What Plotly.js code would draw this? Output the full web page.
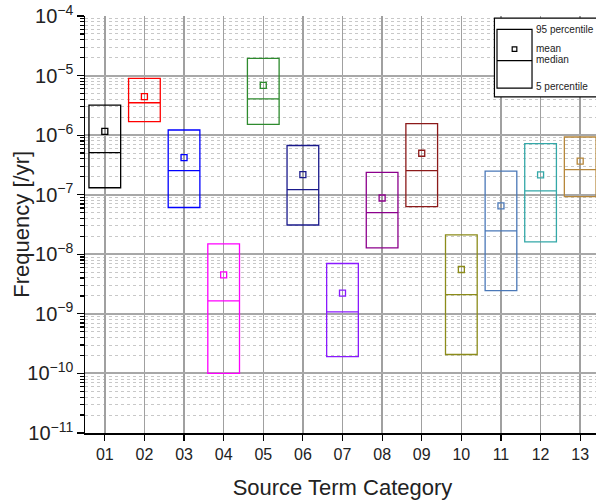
<!DOCTYPE html>
<html><head><meta charset="utf-8">
<script src="https://cdn.plot.ly/plotly-3.0.1.min.js"></script>
<style>html,body{margin:0;padding:0;overflow:hidden;background:#fff}</style>
</head><body><div id="chart" style="width:600px;height:500px"></div>
<script>
const categories = ['01','02','03','04','05','06','07','08','09','10','11','12','13'];
const p95    = [3.2e-6, 9.0e-6, 1.22e-6, 1.49e-8, 1.95e-5, 6.7e-7, 7.0e-9, 2.38e-7, 1.56e-6, 2.12e-8, 2.48e-7, 7.2e-7, 9.3e-7];
const p5     = [1.31e-7, 1.69e-6, 6.1e-8, 1.0e-10, 1.52e-6, 3.1e-8, 1.92e-10, 1.28e-8, 6.3e-8, 2.08e-10, 2.46e-9, 1.61e-8, 9.3e-8];
const median = [5.1e-7, 3.5e-6, 2.54e-7, 1.65e-9, 4.05e-6, 1.22e-7, 1.08e-9, 5.0e-8, 2.54e-7, 2.11e-9, 2.47e-8, 1.16e-7, 2.64e-7];
const mean   = [1.16e-6, 4.43e-6, 4.2e-7, 4.5e-9, 6.87e-6, 2.18e-7, 2.22e-9, 8.8e-8, 4.97e-7, 5.55e-9, 6.5e-8, 2.15e-7, 3.65e-7];
const colors = ['#000000','#ff0000','#0000ff','#ff00ff','#2e8b2e','#1a1a8c','#8a1aff','#8c008c','#8c1a1a','#8c8c1a','#4a78b8','#33a8a8','#b7873a'];
const legendLabels = ['95 percentile','mean','median','5 percentile'];
const yTitle = 'Frequency [/yr]';
const xTitle = 'Source Term Category';

const traces = categories.map((c,i)=>({
  type:'box', x:[c], q1:[p5[i]], q3:[p95[i]], median:[median[i]],
  lowerfence:[p5[i]], upperfence:[p95[i]], width:0.8,
  line:{color:colors[i], width:1.3}, fillcolor:'rgba(0,0,0,0)',
  whiskerwidth:0, showlegend:false, hoverinfo:'skip'
}));
traces.push({
  type:'scatter', mode:'markers', x:categories, y:mean,
  marker:{symbol:'square-open', size:6, color:colors, line:{width:1.3, color:colors}},
  showlegend:false, hoverinfo:'skip'
});

const fnt = {family:'Liberation Sans, Arial, sans-serif', color:'#222'};
const legFont = {size:10, family:fnt.family, color:'#222'};
const layout = {
  width:600, height:500,
  margin:{l:85, r:0, t:16, b:67},
  paper_bgcolor:'#fff', plot_bgcolor:'#fff',
  showlegend:false,
  font:fnt,
  xaxis:{
    type:'category', range:[-0.5,12.5], categoryorder:'array', categoryarray:categories,
    showline:true, linecolor:'#000', linewidth:1.5, mirror:false,
    ticks:'outside', ticklen:6, tickcolor:'#000', tickwidth:1.2,
    showgrid:true, gridcolor:'#a0a0a0', gridwidth:1.5,
    tickfont:{size:16, family:fnt.family, color:'#222'},
    title:{text:xTitle, font:{size:22, family:fnt.family, color:'#222'}, standoff:18},
    zeroline:false
  },
  yaxis:{
    type:'log', range:[-11,-4], dtick:1, exponentformat:'power',
    showline:true, linecolor:'#000', linewidth:1.5, mirror:true,
    ticks:'outside', ticklen:7, tickcolor:'#000', tickwidth:1.2,
    showgrid:true, gridcolor:'#a8a8a8', gridwidth:2,
    tickfont:{size:16, family:fnt.family, color:'#222'},
    minor:{dtick:'D1', showgrid:true, gridcolor:'#c8c8c8', griddash:'dot', gridwidth:1,
           ticks:'outside', ticklen:4, tickcolor:'#000'},
    zeroline:false
  },
  shapes:[
    {type:'rect', xref:'paper', yref:'paper', x0:0.795, x1:1.02, y0:0.806, y1:0.995,
     line:{color:'#000', width:1.2}, fillcolor:'#fff', layer:'above'},
    {type:'rect', xref:'paper', yref:'paper', x0:0.80, x1:0.868, y0:0.827, y1:0.968,
     line:{color:'#000', width:1.2}, layer:'above'},
    {type:'line', xref:'paper', yref:'paper', x0:0.80, x1:0.868, y0:0.893, y1:0.893,
     line:{color:'#000', width:1.2}, layer:'above'},
    {type:'rect', xref:'paper', yref:'paper', x0:0.8295, x1:0.8385, y0:0.915, y1:0.926,
     line:{color:'#000', width:1.2}, layer:'above'}
  ],
  annotations:[
    {xref:'paper', yref:'paper', x:-0.124, y:0.5, text:yTitle, textangle:-90, showarrow:false,
     xanchor:'center', yanchor:'middle', font:{size:22, family:fnt.family, color:'#222'}},
    {xref:'paper', yref:'paper', x:0.872, y:0.968, text:legendLabels[0], showarrow:false, xanchor:'left', yanchor:'middle', font:legFont},
    {xref:'paper', yref:'paper', x:0.872, y:0.922, text:legendLabels[1], showarrow:false, xanchor:'left', yanchor:'middle', font:legFont},
    {xref:'paper', yref:'paper', x:0.872, y:0.895, text:legendLabels[2], showarrow:false, xanchor:'left', yanchor:'middle', font:legFont},
    {xref:'paper', yref:'paper', x:0.872, y:0.83, text:legendLabels[3], showarrow:false, xanchor:'left', yanchor:'middle', font:legFont}
  ]
};
Plotly.newPlot('chart', traces, layout, {staticPlot:true, displayModeBar:false});
</script></body></html>
